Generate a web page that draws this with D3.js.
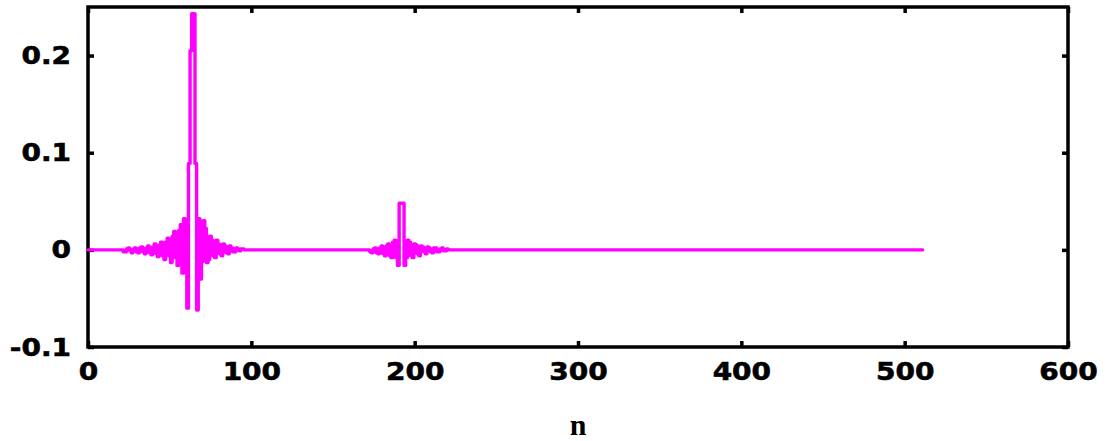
<!DOCTYPE html>
<html>
<head>
<meta charset="utf-8">
<script src="https://cdn.jsdelivr.net/npm/d3@7"></script>
<style>
  html, body { margin: 0; padding: 0; background: #fff; }
  svg { display: block; }
</style>
</head>
<body>
<svg id="chart" width="1107" height="441"></svg>
<script>
// Signal x[n], n = 0 .. 511: zero except for two oscillating bursts.
const nFirst = 0;
const nLast = 511;

// First burst, samples starting at n = 21
const burst1Start = 21;
const burst1 = [
  0, -0.002, -0.002, 0.001, 0.002, -0.001, -0.003, 0.001, 0.002, -0.002,
  -0.003, 0.002, 0.003, -0.002, -0.004, 0.002, 0.004, -0.003, -0.005, 0.003,
  0.006, -0.004, -0.007, 0.005, 0.008, -0.006, -0.010, 0.008, 0.012, -0.006,
  -0.013, 0.014, 0.019, -0.008, -0.016, 0.020, 0.026, -0.024, 0.032, 0.020,
  -0.060, 0.089, 0.205, 0.243, 0.243, 0.089, -0.062, 0.032, -0.030, -0.012,
  0.030, 0.022, -0.013, -0.010, 0.014, 0.010, -0.006, -0.008, 0.010, 0.006,
  -0.004, -0.006, 0.006, 0.004, -0.003, -0.004, 0.004, 0.002, -0.002, -0.002,
  0.002, 0.001, -0.001, 0.001, 0.001, 0
];

// Second burst, samples starting at n = 172
const burst2Start = 172;
const burst2 = [
  0, -0.002, -0.003, 0.001, 0.002, -0.003, -0.004, 0.002, 0.004, -0.004,
  -0.006, 0.004, 0.006, -0.006, -0.008, 0.008, 0.010, -0.008, -0.016, 0.048,
  0.048, 0.048, -0.016, -0.008, 0.010, 0.008, -0.006, -0.008, 0.006, 0.005,
  -0.004, -0.006, 0.004, 0.003, -0.002, -0.004, 0.003, 0.002, -0.002, -0.003,
  0.002, 0.002, -0.002, -0.002, 0.001, 0.002, -0.001, -0.001, 0.001, 0
];

const xTicks = [0, 100, 200, 300, 400, 500, 600];
const yTicks = [-0.1, 0, 0.1, 0.2];
const xLabel = "n";

// Assemble the point list: flat ends plus the two bursts
const points = [[nFirst, 0]]
  .concat(burst1.map((v, i) => [burst1Start + i, v]))
  .concat(burst2.map((v, i) => [burst2Start + i, v]))
  .concat([[nLast, 0]]);

const svg = d3.select("#chart");
const plotLeft = 88, plotRight = 1068, plotTop = 7, plotBottom = 347;

const x = d3.scaleLinear().domain([0, 600]).range([plotLeft, plotRight]);
const y = d3.scaleLinear().domain([-0.1, 0.25]).range([plotBottom, plotTop]);

const fontFamily = "'DejaVu Sans', sans-serif";
const stretch = 1.12;

function styleAxis(g, showText) {
  g.select(".domain").remove();
  g.selectAll(".tick line").attr("stroke", "#000").attr("stroke-width", 3.5);
  g.selectAll(".tick text")
    .attr("fill", "#000")
    .attr("stroke", "#000")
    .attr("stroke-width", 0.6)
    .style("font-family", fontFamily)
    .style("font-weight", "bold")
    .style("font-size", "25px")
    .style("display", showText ? null : "none");
}

// Tick labels use a plain hyphen for negatives
const yFormat = d => d === 0 ? "0" : d3.format(".1f")(d).replace("\u2212", "-");

// Bottom axis with labels
const gx = svg.append("g")
  .attr("transform", `translate(0,${plotBottom})`)
  .call(d3.axisBottom(x).tickValues(xTicks).tickFormat(d3.format("d"))
    .tickSizeInner(-6).tickSizeOuter(0).tickPadding(15));
styleAxis(gx, true);
gx.selectAll(".tick text").attr("transform", `scale(${stretch},1)`);

// Left axis with labels
const gy = svg.append("g")
  .attr("transform", `translate(${plotLeft},0)`)
  .call(d3.axisLeft(y).tickValues(yTicks).tickFormat(yFormat)
    .tickSizeInner(-6).tickSizeOuter(0).tickPadding(17));
styleAxis(gy, true);
gy.selectAll(".tick text").each(function () {
  const t = d3.select(this);
  const x0 = +t.attr("x");
  t.attr("x", x0 / stretch).attr("transform", `scale(${stretch},1)`);
});

// Mirrored ticks on top and right
const gt = svg.append("g")
  .attr("transform", `translate(0,${plotTop})`)
  .call(d3.axisTop(x).tickValues(xTicks).tickSizeInner(-6).tickSizeOuter(0));
styleAxis(gt, false);
const gr = svg.append("g")
  .attr("transform", `translate(${plotRight},0)`)
  .call(d3.axisRight(y).tickValues(yTicks).tickSizeInner(-6).tickSizeOuter(0));
styleAxis(gr, false);

// Frame
svg.append("rect")
  .attr("x", plotLeft).attr("y", plotTop)
  .attr("width", plotRight - plotLeft).attr("height", plotBottom - plotTop)
  .attr("fill", "none").attr("stroke", "#000").attr("stroke-width", 3.5);

// Signal trace
const line = d3.line()
  .x(d => x(d[0]))
  .y(d => y(d[1]))
  .curve(d3.curveStep);

svg.append("path")
  .datum(points)
  .attr("d", line)
  .attr("fill", "none")
  .attr("stroke", "#ff00ff")
  .attr("stroke-width", 3.4)
  .attr("stroke-linejoin", "round")
  .attr("stroke-linecap", "round");

// Axis title
svg.append("text")
  .attr("x", x(300))
  .attr("y", 435)
  .attr("text-anchor", "middle")
  .style("font-family", "'Liberation Serif', 'Times New Roman', serif")
  .style("font-weight", "bold")
  .style("font-size", "30px")
  .attr("fill", "#000")
  .text(xLabel);
</script>
</body>
</html>
